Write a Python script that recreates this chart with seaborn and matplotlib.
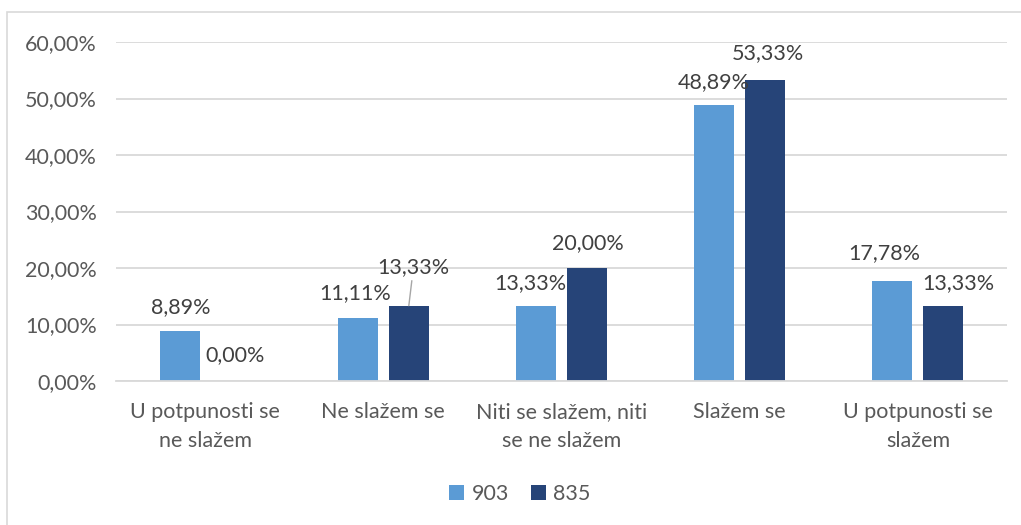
import matplotlib
matplotlib.use("Agg")
import matplotlib.pyplot as plt
import matplotlib.ticker as mticker
from matplotlib.patches import Rectangle
import seaborn as sns
import pandas as pd

categories = ["U potpunosti se\nne slažem", "Ne slažem se", "Niti se slažem, niti\nse ne slažem",
              "Slažem se", "U potpunosti se\nslažem"]
series_names = ["903", "835"]
values_903 = [0.0889, 0.1111, 0.1333, 0.4889, 0.1778]
values_835 = [0.0000, 0.1333, 0.2000, 0.5333, 0.1333]
y_ticks = [0.0, 0.1, 0.2, 0.3, 0.4, 0.5, 0.6]

df = pd.DataFrame({
    "cat": categories * 2,
    "series": [series_names[0]] * 5 + [series_names[1]] * 5,
    "val": values_903 + values_835,
})

sns.set_theme(style="white")
plt.rcParams["font.family"] = ["Lato", "DejaVu Sans"]
TXT = "#595959"
GRID = "#D9D9D9"
FS = 15.5

fig = plt.figure(figsize=(10.21, 5.25), dpi=100)
ax = fig.add_axes([116 / 1021, 1 - 381 / 525, (1007 - 116) / 1021, (381 - 42) / 525])

sns.barplot(data=df, x="cat", y="val", hue="series", order=categories, hue_order=series_names,
            palette=["#5B9BD5", "#264478"], saturation=1, width=0.573, gap=0.215, ax=ax,
            legend=True, edgecolor="none", linewidth=0)

ax.set_xlim(-0.5, len(categories) - 0.5)
ax.set_ylim(0, 0.6)
ax.set_yticks(y_ticks)
ax.yaxis.set_major_formatter(mticker.FuncFormatter(lambda v, p: f"{v*100:.2f}%".replace(".", ",")))
ax.grid(axis="y", color=GRID, linewidth=1.3)
ax.set_axisbelow(True)
for s in ["left", "right", "top"]:
    ax.spines[s].set_visible(False)
ax.spines["bottom"].set_color(GRID)
ax.spines["bottom"].set_linewidth(1.3)
ax.tick_params(axis="y", length=0, pad=14, labelsize=FS, labelcolor=TXT)
ax.tick_params(axis="x", length=0, pad=15, labelsize=FS, labelcolor=TXT)
for t in ax.get_xticklabels():
    t.set_linespacing(1.55)
ax.set_xlabel("")
ax.set_ylabel("")

# label offsets in pixels (dx, dy) relative to bar top center
offsets = [
    [(1, 24), (-3, 25), (-6, 23), (0, 23), (-8, 27)],
    [(4, 26), (5, 39), (1, 25), (3, 27), (15, 23)],
]
for si, cont in enumerate(ax.containers):
    for ci, bar in enumerate(cont):
        h = bar.get_height()
        xc = bar.get_x() + bar.get_width() / 2
        dx, dy = offsets[si][ci]
        ax.annotate(f"{h*100:.2f}%".replace(".", ","), (xc, h), xytext=(dx, dy),
                    textcoords="offset pixels", ha="center", va="center",
                    fontsize=FS, color="#404040")
        if si == 1 and ci == 1:
            ax.annotate("", (xc, h), xytext=(dx - 2, dy - 14), textcoords="offset pixels",
                        arrowprops=dict(arrowstyle="-", color="#A6A6A6", lw=1, shrinkA=0, shrinkB=0))

leg = ax.legend(loc="center", bbox_to_anchor=(520 / 1021, 1 - 494 / 525),
                bbox_transform=fig.transFigure, ncol=2, frameon=False, fontsize=FS,
                handlelength=0.7, handleheight=0.7, handletextpad=0.35, columnspacing=1.0)
for t in leg.get_texts():
    t.set_color(TXT)

fig.patches.append(Rectangle((7 / 1021, -0.1), 1.2, 1 - 12 / 525 + 0.1, transform=fig.transFigure,
                             fill=False, edgecolor="#D9D9D9", linewidth=1.2))

fig.savefig("out.png", dpi=100)
